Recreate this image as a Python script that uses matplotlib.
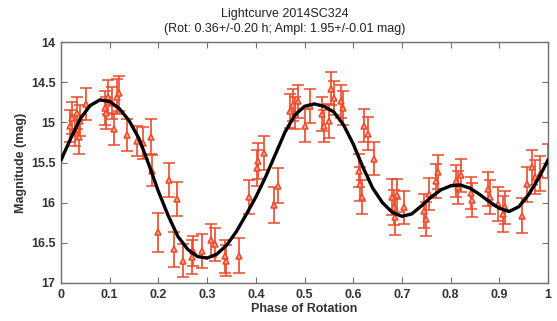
import numpy as np
import matplotlib.pyplot as plt

plt.rcParams['font.family'] = ['Liberation Sans', 'DejaVu Sans']

# measured points: phase, magnitude, error
phase = [0.018, 0.022, 0.028, 0.032, 0.036, 0.040, 0.052, 0.090, 0.092, 0.097,
         0.105, 0.108, 0.116, 0.120, 0.135, 0.156, 0.168, 0.185, 0.187, 0.200,
         0.222, 0.232, 0.238, 0.250, 0.268, 0.270, 0.289, 0.307, 0.316, 0.337,
         0.339, 0.366, 0.385, 0.403, 0.405, 0.416, 0.437, 0.446, 0.471, 0.476,
         0.481, 0.486, 0.500, 0.512, 0.536, 0.539, 0.550, 0.555, 0.560, 0.575,
         0.578, 0.611, 0.614, 0.617, 0.622, 0.630, 0.643, 0.680, 0.684, 0.686,
         0.690, 0.704, 0.745, 0.749, 0.756, 0.769, 0.774, 0.810, 0.815, 0.821,
         0.842, 0.843, 0.877, 0.881, 0.898, 0.908, 0.912, 0.946, 0.956, 0.966,
         0.973, 0.984, 1.000]
mag = [15.05, 14.95, 15.10, 14.88, 15.18, 14.98, 14.77, 14.82, 14.88, 14.68,
       14.76, 15.08, 14.68, 14.64, 15.16, 15.23, 15.26, 15.18, 15.60, 16.37,
       15.72, 16.58, 15.95, 16.72, 16.68, 16.60, 16.60, 16.47, 16.52, 16.67,
       16.72, 16.66, 15.93, 15.57, 15.48, 15.38, 16.03, 15.79, 14.86, 14.78,
       14.88, 14.74, 15.04, 14.80, 14.90, 15.04, 14.98, 14.58, 14.70, 14.74,
       14.82, 15.60, 15.77, 15.93, 15.04, 15.14, 15.45, 15.93, 16.06, 16.18,
       15.91, 16.06, 16.10, 16.20, 15.89, 15.73, 15.62, 15.73, 15.81, 15.66,
       15.88, 15.97, 15.83, 15.93, 16.02, 16.14, 16.06, 16.16, 15.77, 15.56,
       15.68, 15.64, 15.48]
err = [0.20, 0.20, 0.19, 0.20, 0.21, 0.19, 0.20, 0.21, 0.20, 0.21,
       0.20, 0.20, 0.22, 0.22, 0.20, 0.19, 0.20, 0.22, 0.19, 0.24,
       0.21, 0.22, 0.21, 0.20, 0.21, 0.19, 0.21, 0.21, 0.20, 0.21,
       0.19, 0.22, 0.21, 0.22, 0.22, 0.21, 0.22, 0.22, 0.21, 0.20,
       0.20, 0.21, 0.21, 0.21, 0.21, 0.20, 0.21, 0.21, 0.21, 0.20,
       0.21, 0.21, 0.21, 0.21, 0.21, 0.21, 0.20, 0.22, 0.22, 0.22,
       0.21, 0.21, 0.21, 0.21, 0.20, 0.21, 0.21, 0.20, 0.21, 0.21,
       0.20, 0.21, 0.21, 0.21, 0.21, 0.22, 0.21, 0.22, 0.22, 0.22,
       0.21, 0.22, 0.21]

# fitted lightcurve
fit_phase = [0.00, 0.02, 0.04, 0.06, 0.08, 0.10, 0.12, 0.14, 0.16, 0.18,
             0.20, 0.22, 0.24, 0.26, 0.28, 0.30, 0.32, 0.34, 0.36, 0.38,
             0.40, 0.42, 0.44, 0.46, 0.48, 0.50, 0.52, 0.54, 0.56, 0.58,
             0.60, 0.62, 0.64, 0.66, 0.68, 0.70, 0.72, 0.74, 0.76, 0.78,
             0.80, 0.82, 0.84, 0.86, 0.88, 0.90, 0.92, 0.94, 0.96, 0.98, 1.00]
fit_mag = [15.47, 15.20, 14.95, 14.79, 14.72, 14.74, 14.83, 14.98, 15.20, 15.52,
           15.86, 16.16, 16.42, 16.58, 16.67, 16.69, 16.64, 16.53, 16.36, 16.15,
           15.93, 15.68, 15.40, 15.12, 14.91, 14.80, 14.77, 14.80, 14.87, 15.03,
           15.27, 15.56, 15.82, 16.00, 16.12, 16.17, 16.14, 16.04, 15.93, 15.84,
           15.79, 15.78, 15.82, 15.90, 15.99, 16.07, 16.11, 16.05, 15.90, 15.70, 15.47]

xticks = [0, 0.1, 0.2, 0.3, 0.4, 0.5, 0.6, 0.7, 0.8, 0.9, 1]
xticklabels = ['0', '0.1', '0.2', '0.3', '0.4', '0.5', '0.6', '0.7', '0.8', '0.9', '1']
yticks = [14, 14.5, 15, 15.5, 16, 16.5, 17]
yticklabels = ['14', '14.5', '15', '15.5', '16', '16.5', '17']

fig = plt.figure(figsize=(5.57, 3.21), dpi=100)
ax = fig.add_axes([0.1095, 0.1184, 0.8745, 0.7506])

red = '#ec4a2a'
ax.errorbar(phase, mag, yerr=err, fmt='^', color=red, ecolor=red, mfc='#f6a58f',
            mec=red, ms=5, mew=1.1, elinewidth=1.2, capsize=4.5, capthick=1.2, zorder=2)
ax.plot(fit_phase, fit_mag, color='black', lw=2.4, zorder=3)

ax.set_xlim(0, 1)
ax.set_ylim(17, 14)
ax.set_xticks(xticks)
ax.set_xticklabels(xticklabels, fontweight='bold')
ax.set_yticks(yticks)
ax.set_yticklabels(yticklabels, fontweight='bold')
ax.tick_params(direction='in', top=True, right=True, length=4, width=0.8,
               color='#707070', labelsize=9, labelcolor='#333333', pad=4)
for s in ax.spines.values():
    s.set_color('#707070')
    s.set_linewidth(1.0)

ax.set_xlabel('Phase of Rotation', fontsize=9, fontweight='bold', color='#333333', labelpad=2)
ax.set_ylabel('Magnitude (mag)', fontsize=9, fontweight='bold', color='#333333', labelpad=3)
fig.text(0.512, 0.955, 'Lightcurve 2014SC324', ha='center', va='center',
         fontsize=9, color='#222222')
fig.text(0.512, 0.91, '(Rot: 0.36+/-0.20 h; Ampl: 1.95+/-0.01 mag)', ha='center',
         va='center', fontsize=9, color='#222222')

fig.savefig('out.png', dpi=100)
